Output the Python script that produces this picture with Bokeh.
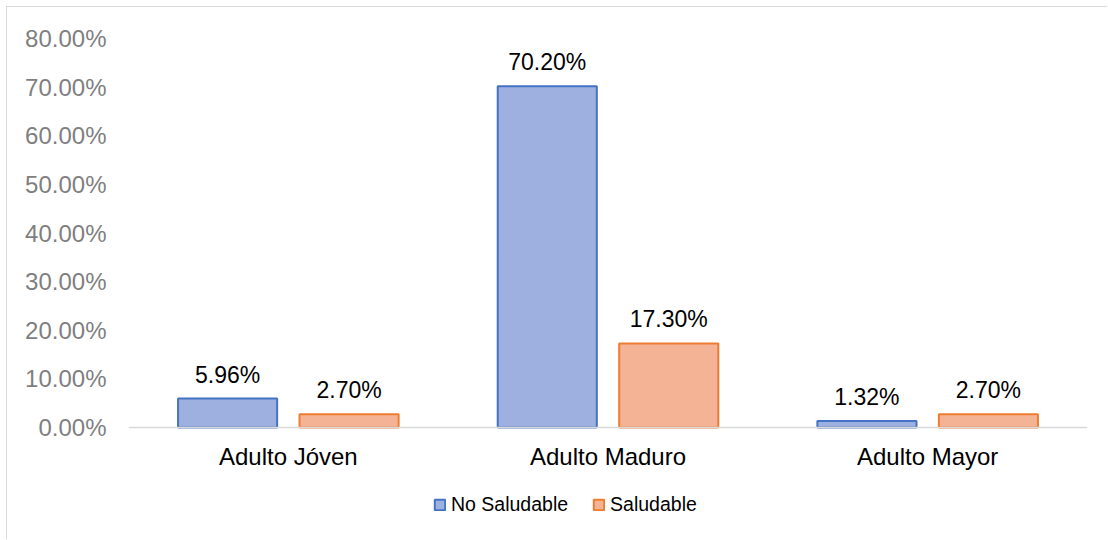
from bokeh.plotting import figure
from bokeh.models import ColumnDataSource, FactorRange, Legend, LegendItem, FixedTicker, NumeralTickFormatter, Range1d, Span
from bokeh.transform import dodge
from bokeh.core.properties import value
from bokeh.embed import file_html
from bokeh.resources import INLINE

categories = ["Adulto Jóven", "Adulto Maduro", "Adulto Mayor"]
no_saludable = [5.96, 70.20, 1.32]
saludable = [2.70, 17.30, 2.70]
y_ticks = [0, 10, 20, 30, 40, 50, 60, 70, 80]

FONT = "Liberation Sans"

src = ColumnDataSource(dict(
    cat=categories,
    zero=[0] * len(categories),
    ns=[v / 100 for v in no_saludable],
    s=[v / 100 for v in saludable],
    ns_lbl=[f"{v:.2f}%" for v in no_saludable],
    s_lbl=[f"{v:.2f}%" for v in saludable],
))

# frame extends below zero to hold category labels and legend (389 px per 80%, 113 px below zero)
y_max = y_ticks[-1] / 100
y_min = -y_max * 113 / 389

p = figure(x_range=FactorRange(*categories, range_padding=0),
           y_range=Range1d(y_min, y_max),
           width=1101, height=533, output_backend="svg", toolbar_location=None,
           min_border_left=121, min_border_right=21, min_border_top=31, min_border_bottom=0)
p.styles = {"border-left": "1px solid #D9D9D9", "border-top": "1px solid #D9D9D9",
            "margin-left": "6px", "margin-top": "6px"}
p.outline_line_color = None
p.grid.visible = False
p.xaxis.visible = False

p.add_layout(Span(location=0, dimension="width", line_color="#D9D9D9", line_width=1.5))

r1 = p.vbar(x=dodge("cat", -0.19, range=p.x_range), top="ns", width=0.31, source=src,
            fill_color="#9EB0DF", line_color="#4472C4", line_width=2)
r2 = p.vbar(x=dodge("cat", 0.19, range=p.x_range), top="s", width=0.31, source=src,
            fill_color="#F5B396", line_color="#ED7D31", line_width=2)

p.text(x=dodge("cat", -0.19, range=p.x_range), y="ns", text="ns_lbl", source=src,
       text_align="center", text_baseline="bottom", y_offset=-11,
       text_font=value(FONT), text_font_size="23px", text_color="#000000")
p.text(x=dodge("cat", 0.19, range=p.x_range), y="s", text="s_lbl", source=src,
       text_align="center", text_baseline="bottom", y_offset=-11,
       text_font=value(FONT), text_font_size="23px", text_color="#000000")

# category labels under the baseline
p.text(x="cat", y="zero", text="cat", source=src,
       text_align="center", text_baseline="middle", y_offset=29,
       text_font=value(FONT), text_font_size="24px", text_color="#000000")

p.yaxis.ticker = FixedTicker(ticks=[t / 100 for t in y_ticks])
p.yaxis.formatter = NumeralTickFormatter(format="0.00%")
p.yaxis.axis_line_color = None
p.yaxis.major_tick_line_color = None
p.yaxis.minor_tick_line_color = None
p.yaxis.major_label_standoff = 16
p.yaxis.major_label_text_font = FONT
p.yaxis.major_label_text_font_size = "24px"
p.yaxis.major_label_text_color = "#7F7F7F"

legend = Legend(items=[LegendItem(label="No Saludable", renderers=[r1]),
                       LegendItem(label="Saludable", renderers=[r2])],
                orientation="horizontal", location=(305, 24),
                glyph_width=13, glyph_height=13, label_standoff=5, spacing=24,
                label_text_font=FONT, label_text_font_size="19.5px", label_text_color="#000000",
                background_fill_alpha=0, border_line_color=None, padding=0, margin=0)
p.add_layout(legend)

open("out.html", "w").write(file_html(p, INLINE))
